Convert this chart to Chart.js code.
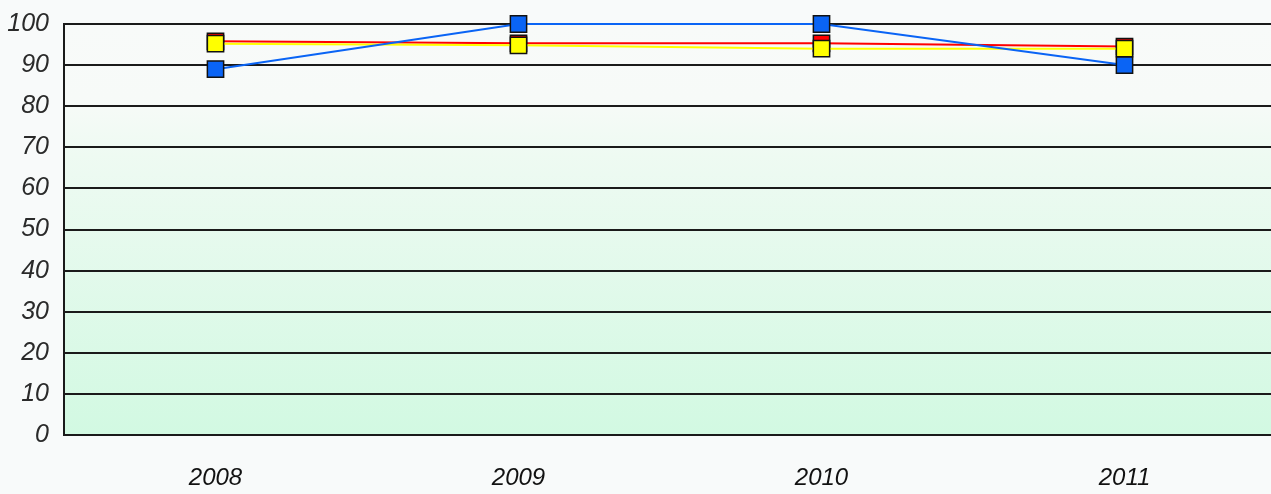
<!DOCTYPE html>
<html>
<head>
<meta charset="utf-8">
<script src="https://cdn.jsdelivr.net/npm/chart.js@4.4.0/dist/chart.umd.min.js"></script>
<style>
  html, body { margin: 0; padding: 0; background: #f8fafa; overflow: hidden; }
  #wrap { width: 1276px; height: 494px; }
</style>
</head>
<body>
<div id="wrap"><canvas id="lineChart" width="1276" height="494"></canvas></div>
<script>
// Chart data
const years = ['2008', '2009', '2010', '2011'];
const blueValues = [89, 100, 100, 90];
const redValues = [95.8, 95.3, 95.3, 94.5];
const yellowValues = [95.2, 94.8, 94.0, 94.0];
const yTicks = [0, 10, 20, 30, 40, 50, 60, 70, 80, 90, 100];

// Plot area background gradient
const plotBackground = {
    id: 'plotBackground',
    beforeDraw: function(chart) {
        const area = chart.chartArea;
        const ctx = chart.ctx;
        const grad = ctx.createLinearGradient(0, area.top, 0, area.bottom);
        grad.addColorStop(0, '#f8faf9');
        grad.addColorStop(0.18, '#f7faf8');
        grad.addColorStop(0.32, '#eefaf2');
        grad.addColorStop(1, '#d2f9e2');
        ctx.save();
        ctx.fillStyle = grad;
        ctx.fillRect(area.left, area.top, area.right - area.left, area.bottom - area.top);
        ctx.restore();
    }
};

function series(values, color, order) {
    return {
        data: values,
        borderColor: color,
        backgroundColor: color,
        borderWidth: 2,
        pointStyle: 'rect',
        pointRadius: 11.5,
        pointBorderColor: '#111',
        pointBorderWidth: 1.5,
        pointBackgroundColor: color,
        tension: 0,
        fill: false,
        clip: false,
        order: order
    };
}

const ctx = document.getElementById('lineChart').getContext('2d');
const lineChart = new Chart(ctx, {
    type: 'line',
    data: {
        labels: years,
        datasets: [
            series(redValues, '#ff0000', 2),
            series(yellowValues, '#ffff00', 1),
            series(blueValues, '#0a64f5', 0)
        ]
    },
    options: {
        responsive: false,
        animation: false,
        events: [],
        layout: { autoPadding: false, padding: 0 },
        scales: {
            x: {
                offset: true,
                grid: { display: false, drawTicks: false },
                border: { display: false },
                afterFit: function(scale) { scale.height = 59; },
                ticks: {
                    color: '#111',
                    padding: 29,
                    font: { family: 'Liberation Sans, Arial', size: 24, style: 'italic' }
                }
            },
            y: {
                min: 0,
                max: 100,
                afterBuildTicks: function(axis) {
                    axis.ticks = yTicks.map(function(v) { return { value: v }; });
                },
                afterFit: function(scale) { scale.width = 64; },
                grid: { color: '#1a1a1a', lineWidth: 2, drawTicks: false },
                border: { display: true, color: '#1a1a1a', width: 2 },
                ticks: {
                    color: '#2a2a2a',
                    padding: 15,
                    font: { family: 'Liberation Sans, Arial', size: 25, style: 'italic', lineHeight: 0.72 }
                }
            }
        },
        plugins: {
            legend: { display: false },
            tooltip: { enabled: false }
        }
    },
    plugins: [plotBackground]
});
</script>
</body>
</html>
